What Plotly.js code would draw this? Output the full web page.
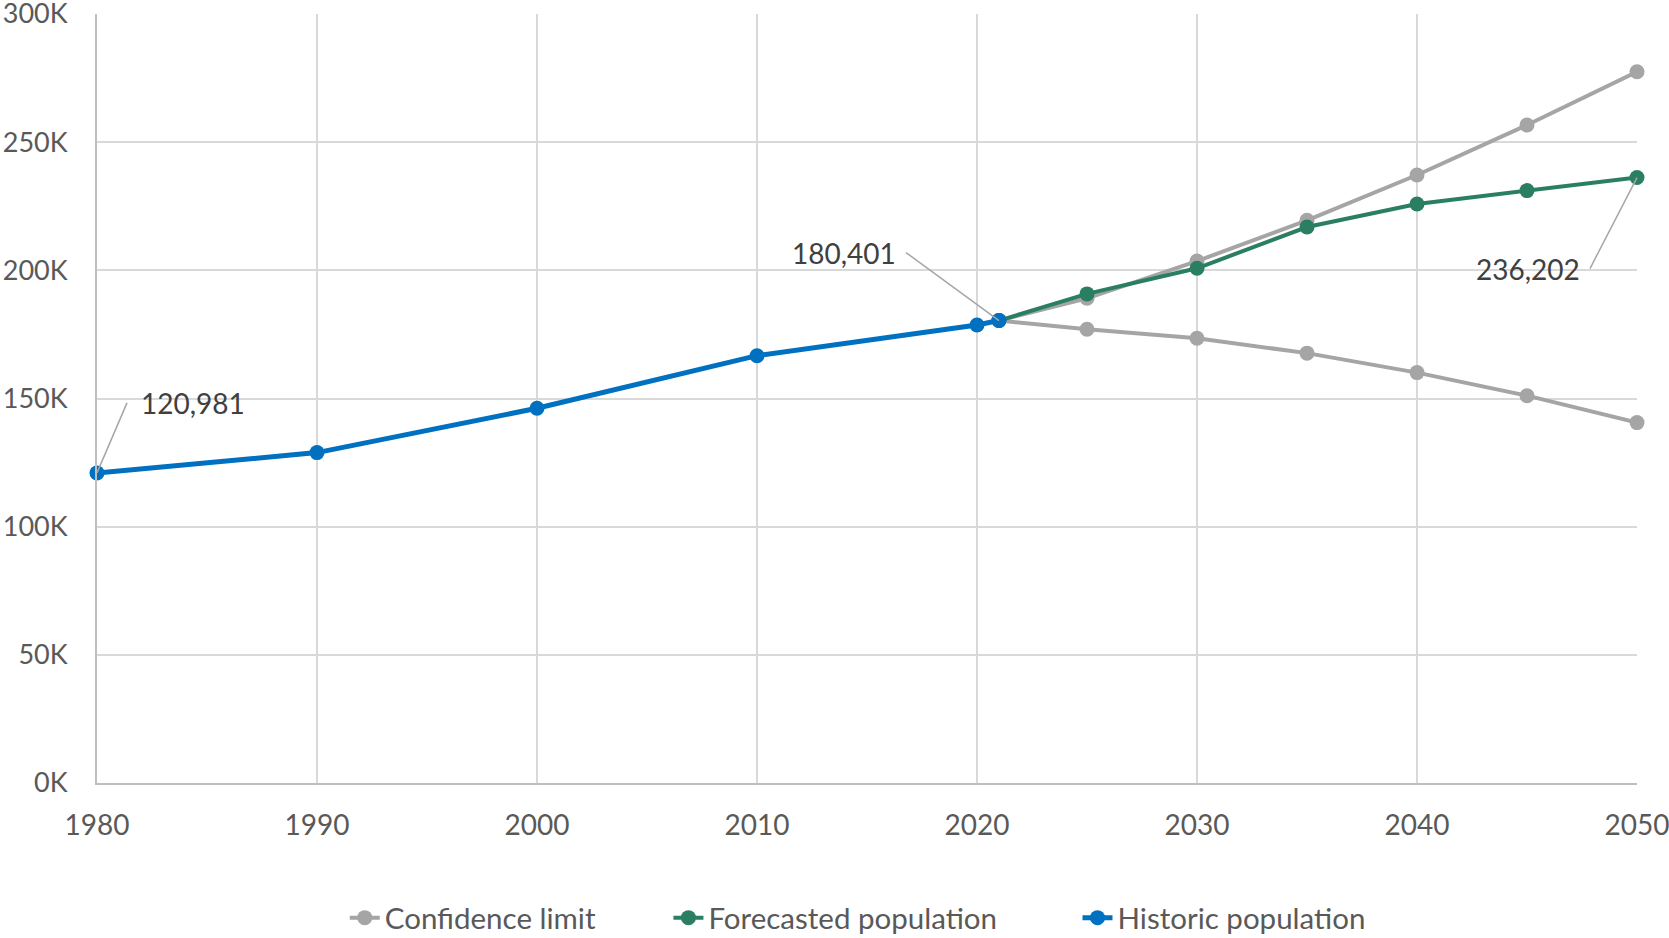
<!DOCTYPE html>
<html>
<head>
<meta charset="utf-8">
<script src="https://cdn.plot.ly/plotly-3.0.1.min.js"></script>
<style>html,body{margin:0;padding:0;background:#fff;}#chart{width:1669px;height:938px;}</style>
</head>
<body>
<div id="chart"></div>
<script>
// Data
const historicYears = [1980, 1990, 2000, 2010, 2020, 2021];
const historicPop = [120981, 128900, 146200, 166700, 178700, 180401];

const forecastYears = [2021, 2025, 2030, 2035, 2040, 2045, 2050];
const forecastPop = [180401, 190800, 200800, 216900, 225900, 231100, 236202];

const confUpper = [180401, 189100, 203600, 219500, 237200, 256700, 277500];
const confLower = [180401, 177000, 173500, 167700, 160100, 151100, 140600];

const xTicks = [1980, 1990, 2000, 2010, 2020, 2030, 2040, 2050];
const yTicks = [0, 50000, 100000, 150000, 200000, 250000, 300000];
const yTickText = ['0K', '50K', '100K', '150K', '200K', '250K', '300K'];

const seriesNames = ['Confidence limit', 'Forecasted population', 'Historic population'];

const GRAY = '#a5a5a5', GREEN = '#2a7f62', BLUE = '#0070c0';
const FONT = 'Lato, "Open Sans", sans-serif';
const pad = n => '\u00a0'.repeat(n);

const traces = [
  {x: forecastYears, y: confUpper, name: seriesNames[0] + pad(9), legendgroup: 'conf', type: 'scatter', mode: 'lines+markers',
   line: {color: GRAY, width: 4}, marker: {color: GRAY, size: 15}, cliponaxis: false},
  {x: forecastYears, y: confLower, name: seriesNames[0], legendgroup: 'conf', showlegend: false, type: 'scatter', mode: 'lines+markers',
   line: {color: GRAY, width: 4}, marker: {color: GRAY, size: 15}, cliponaxis: false},
  {x: forecastYears, y: forecastPop, name: seriesNames[1] + pad(10), type: 'scatter', mode: 'lines+markers',
   line: {color: GREEN, width: 4}, marker: {color: GREEN, size: 15}, cliponaxis: false},
  {x: historicYears, y: historicPop, name: seriesNames[2], type: 'scatter', mode: 'lines+markers',
   line: {color: BLUE, width: 5}, marker: {color: BLUE, size: 15}, cliponaxis: false}
];

const fmt = v => v.toLocaleString('en-US');
const labelStyle = {showarrow: true, arrowhead: 0, arrowwidth: 1.5, arrowcolor: '#a6a6a6',
  font: {family: FONT, size: 28, color: '#404040'}, yanchor: 'middle', axref: 'pixel', ayref: 'pixel'};

const annotations = [
  Object.assign({}, labelStyle, {x: historicYears[0], y: historicPop[0], text: fmt(historicPop[0]),
    xanchor: 'left', ax: 30, ay: -70, borderpad: 13}),
  Object.assign({}, labelStyle, {x: historicYears[5], y: historicPop[5], text: fmt(historicPop[5]),
    xanchor: 'right', ax: -93, ay: -68, borderpad: 9}),
  Object.assign({}, labelStyle, {x: forecastYears[6], y: forecastPop[6], text: fmt(forecastPop[6]),
    xanchor: 'right', ax: -47, ay: 91, borderpad: 9})
];

const layout = {
  width: 1669, height: 938,
  margin: {l: 97, r: 32, t: 14, b: 155, autoexpand: false},
  paper_bgcolor: '#ffffff', plot_bgcolor: '#ffffff',
  font: {family: FONT, size: 28, color: '#595959'},
  showlegend: true,
  legend: {orientation: 'h', x: 0.494, xanchor: 'center', y: -0.1755, yanchor: 'middle',
    font: {family: FONT, size: 29.5, color: '#595959'}, traceorder: 'normal'},
  xaxis: {range: [1980, 2050], tickvals: xTicks, ticktext: xTicks.map(String),
    showgrid: true, gridcolor: '#d9d9d9', gridwidth: 2,
    showline: true, linecolor: '#bfbfbf', linewidth: 2, zeroline: false,
    ticks: '', ticklabelstandoff: 16, ticklabeloverflow: 'allow',
    tickfont: {family: FONT, size: 28, color: '#595959'}},
  yaxis: {range: [0, 300000], tickvals: yTicks, ticktext: yTickText,
    showgrid: true, gridcolor: '#d9d9d9', gridwidth: 2,
    showline: true, linecolor: '#bfbfbf', linewidth: 2, zeroline: false,
    ticks: '', ticklabelstandoff: 22, ticklabeloverflow: 'allow',
    tickfont: {family: FONT, size: 27, color: '#595959'}},
  annotations: annotations,
  hovermode: false
};

Plotly.newPlot('chart', traces, layout, {displayModeBar: false, staticPlot: true});
</script>
</body>
</html>
